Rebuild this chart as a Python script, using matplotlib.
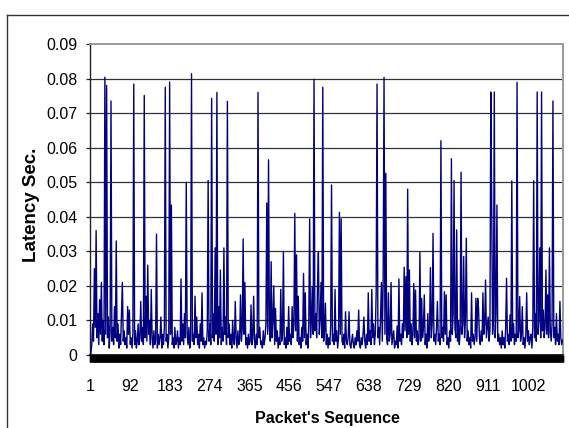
import numpy as np
import matplotlib
matplotlib.use('Agg')
import matplotlib.pyplot as plt
from matplotlib.ticker import MultipleLocator, FixedLocator, FixedFormatter
from matplotlib.lines import Line2D

latency_ms = [
    0.5, 0.5, 3, 9, 4, 25, 8, 36, 5, 12, 3, 16, 6, 21, 4, 10, 3, 80.4, 6, 78,
    5, 11, 2, 7, 73.5, 4, 8, 3, 14, 5, 33, 4, 9, 2, 6, 3, 12, 21, 4, 7,
    3, 5, 2, 14, 6, 13, 3, 5, 2, 6, 78.4, 3, 7, 2, 4, 9, 3, 5, 15.5, 4,
    8, 3, 75.1, 5, 17, 4, 26, 6, 10, 3, 19, 5, 2, 7, 3, 4, 35, 2, 6, 3,
    5, 11, 2, 6, 3, 8, 77.5, 4, 6, 2, 5, 79, 6, 43.4, 3, 5, 2, 8, 3, 4,
    7, 2, 5, 3, 22, 4, 9, 3, 12, 5, 50, 6, 3, 8, 2, 5, 81.4, 4, 6, 3,
    17, 5, 11, 3, 6, 2, 9, 4, 18, 3, 5, 2, 4, 3, 7, 50.5, 4, 9, 3, 74.3,
    5, 12, 4, 31, 6, 76, 3, 14, 5, 24.6, 3, 8, 4, 31, 6, 11, 3, 73.4, 5, 9,
    3, 6, 2, 10, 4, 3, 15.5, 5, 2, 7, 3, 5, 17.4, 4, 8, 33.6, 6, 21, 3, 5,
    2, 6, 3, 4, 14.5, 3, 5, 17, 4, 2, 6, 3, 76, 5, 8, 3, 4, 2, 7, 3,
    5, 9, 44, 6, 56.5, 8, 4, 27, 5, 10, 20, 3, 13.5, 4, 7, 2, 5, 3, 19, 4,
    6, 30, 3, 5, 2, 8, 3, 14, 4, 6, 3, 14, 5, 9, 41, 7, 29, 4, 17, 3,
    5, 2, 8, 4, 23.6, 5, 18, 3, 6, 2, 9, 39.4, 5, 11, 19.8, 6, 79.8, 7, 12, 5,
    20, 29.7, 6, 10, 21, 5, 77.5, 4, 7, 15, 3, 6, 2, 5, 3, 8, 49.2, 4, 6, 3,
    19, 4, 7, 2, 5, 41.3, 6, 39.4, 4, 3, 6, 2, 12.5, 4, 3, 5, 12.5, 3, 2, 4,
    6, 3, 2, 5, 3, 7, 4, 13, 3, 2, 5, 3, 6, 11, 4, 2, 6, 3, 18, 4,
    7, 3, 19, 5, 9, 3, 6, 18, 78.4, 5, 8, 3, 11, 21, 4, 21.7, 80.3, 6, 52.6, 5,
    3, 18, 4, 6, 21, 3, 5, 7, 2, 4, 3, 8.4, 2, 22, 4, 6, 3, 9, 5, 25.4,
    7, 22.7, 5, 48, 6, 24.6, 4, 9, 3, 6, 20.7, 5, 18.8, 4, 7, 3, 5, 29.7, 4, 16.4,
    5, 8, 17.4, 3, 6, 2, 12, 4, 7, 25.3, 5, 9, 35.2, 4, 6, 3, 8, 15.5, 4, 6,
    3, 62, 5, 8, 4, 18.3, 6, 17.4, 3, 5, 2, 7, 4, 56.8, 6, 12, 50.5, 8, 5, 36.2,
    4, 10, 3, 7, 52.9, 6, 9, 28.5, 5, 11, 33.8, 4, 7, 3, 5, 2, 18, 4, 6, 3,
    5, 16.4, 4, 16.4, 13.5, 5, 3, 7, 4, 18, 6, 9, 21.7, 5, 8, 11, 4, 7, 76.1, 44.9,
    6, 10, 76.1, 5, 12, 43.4, 4, 6, 3, 5, 2, 7, 3, 5, 2, 8, 22.2, 4, 6, 3,
    11.6, 4, 50.4, 5, 9, 3, 6, 4, 78.9, 5, 7, 16.9, 4, 6, 14, 3, 5, 2, 6, 18,
    4, 7, 3, 5, 6, 2, 8, 50.4, 5, 12, 4, 76.1, 6, 10, 31, 5, 76.1, 7, 13, 5,
    8, 24.6, 6, 17.4, 5, 31, 7, 4, 9, 73.5, 5, 8, 3, 12, 4, 6, 3, 15.5, 5, 3,
    4.3,
]
packets = np.arange(1, 2 * len(latency_ms), 2)
n_packets = 1082

xtick_values = [1, 92, 183, 274, 365, 456, 547, 638, 729, 820, 911, 1002]
ytick_values = [0, 0.01, 0.02, 0.03, 0.04, 0.05, 0.06, 0.07, 0.08, 0.09]
ytick_labels = ['0', '0.01', '0.02', '0.03', '0.04', '0.05', '0.06', '0.07', '0.08', '0.09']

font = 'Liberation Sans'

fig = plt.figure(figsize=(5.69, 4.28), dpi=100)
fig.set_facecolor('white')
ax = fig.add_axes([90 / 569, 1 - 355 / 428, (563 - 90) / 569, (355 - 44) / 428])

ax.plot(packets, np.array(latency_ms) / 1000.0, color='#000080', lw=1.0, zorder=3)

ax.set_xlim(1, n_packets)
ax.set_ylim(0, 0.09)

# horizontal gridlines
for v in ytick_values[1:-1]:
    ax.axhline(v, color='#333333', lw=0.9, zorder=1)

ax.xaxis.set_major_locator(FixedLocator(xtick_values))
ax.xaxis.set_minor_locator(MultipleLocator(1))
ax.yaxis.set_major_locator(FixedLocator(ytick_values))
ax.yaxis.set_major_formatter(FixedFormatter(ytick_labels))

ax.tick_params(axis='x', which='major', direction='out', length=5, width=1.0,
               color='black', pad=12, labelsize=11.5)
ax.tick_params(axis='x', which='minor', direction='out', length=5, width=1.0,
               color='black')
ax.tick_params(axis='y', which='major', direction='out', length=3, width=0.9,
               color='#222222', pad=6, labelsize=11.5)
for lbl in ax.get_xticklabels() + ax.get_yticklabels():
    lbl.set_family(font)

for side in ['top', 'right']:
    ax.spines[side].set_color('#999999')
    ax.spines[side].set_linewidth(1.4)
ax.spines['left'].set_color('#222222')
ax.spines['left'].set_linewidth(1.0)
ax.spines['bottom'].set_color('black')
ax.spines['bottom'].set_linewidth(1.2)

fig.text(327 / 569, 1 - 418 / 428, "Packet's Sequence", ha='center', va='center',
         fontsize=11.5, fontweight='bold', family=font)
fig.text(32 / 569, 1 - 205 / 428, 'Latency Sec.', ha='center', va='center',
         rotation=90, fontsize=13.5, fontweight='bold', family=font)

# outer chart border
fig.add_artist(Line2D([7 / 569, 1.0], [1 - 15 / 428, 1 - 15 / 428],
                      color='#333333', lw=1.0, transform=fig.transFigure))
fig.add_artist(Line2D([7 / 569, 7 / 569], [1 - 15 / 428, 0.0],
                      color='#333333', lw=1.0, transform=fig.transFigure))

fig.savefig('out.png', dpi=100)
